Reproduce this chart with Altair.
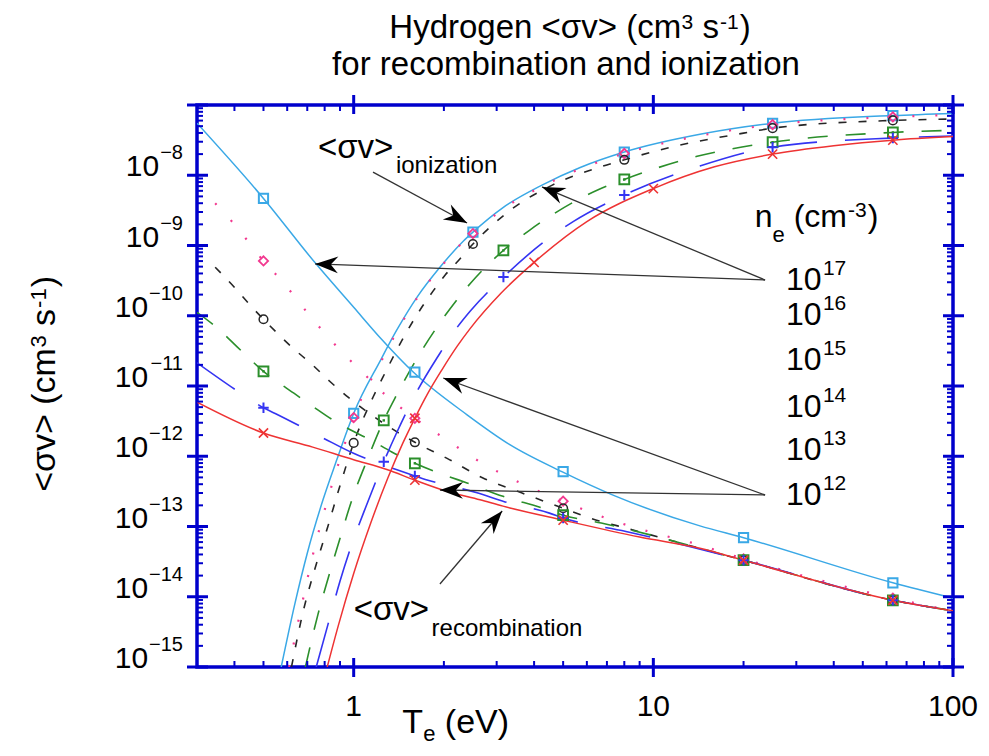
import math
import altair as alt
import pandas as pd

W, H = 756, 562
X_DOMAIN = [0.3, 100]
Y_DOMAIN = [1e-15, 1e-7]
FONT = "Liberation Sans"
AXIS_BLUE = "#0000cc"

xs = alt.Scale(type="log", domain=X_DOMAIN, nice=False)
ys = alt.Scale(type="log", domain=Y_DOMAIN, nice=False)

# ---------------- series (electron density n_e, cm^-3) ----------------
series_names = ["1e17", "1e16", "1e15", "1e14", "1e13", "1e12"]
series_colors = ["#3aa8e6", "#f2388f", "#262626", "#2b8f2b", "#3434f2", "#ee3333"]
series_dash = [None, [2, 21], [8, 12], [20, 18], [46, 28], None]
series_width = [1.5, 2.2, 1.6, 1.6, 1.6, 1.5]

# recombination <sigma v>
rec_x_1e17 = [0.3, 0.5, 0.745, 1.0, 1.23, 1.58, 2.39, 3.33, 4.95, 7.3, 14.3, 20, 63, 100]
rec_y_1e17 = [5.50e-8, 4.68e-9, 5.62e-10, 1.32e-10, 4.79e-11, 1.58e-11, 3.89e-12, 1.45e-12,
              6.03e-13, 2.82e-13, 1.02e-13, 6.92e-14, 1.58e-14, 9.55e-15]
rec_x_1e16 = [0.345, 0.4, 0.5, 0.58, 0.73, 0.94, 1.09, 1.27, 1.6, 2.0, 2.64, 3.56, 5.0, 7.4,
              10, 13.4, 20, 63, 100]
rec_y_1e16 = [3.98e-9, 2.00e-9, 6.03e-10, 3.02e-10, 8.91e-11, 2.69e-11, 1.45e-11, 7.59e-12,
              3.47e-12, 1.82e-12, 8.32e-13, 4.27e-13, 2.29e-13, 1.20e-13, 8.13e-14, 5.89e-14,
              3.47e-14, 9.55e-15, 6.31e-15]
rec_x_1e15 = [0.345, 0.403, 0.458, 0.5, 0.623, 0.728, 0.835, 0.958, 1.11, 1.6, 2.05, 2.7,
              3.63, 5.0, 6.6, 7.6, 20, 63, 100]
rec_y_1e15 = [4.90e-10, 2.45e-10, 1.32e-10, 8.91e-11, 3.55e-11, 2.00e-11, 1.15e-11, 6.92e-12,
              4.27e-12, 1.58e-12, 9.33e-13, 4.90e-13, 3.02e-13, 1.82e-13, 1.20e-13, 1.02e-13,
              3.31e-14, 8.91e-15, 6.31e-15]
rec_x_1e14 = [0.3, 0.354, 0.41, 0.5, 0.64, 0.73, 0.85, 0.97, 1.14, 1.34, 1.6, 2.05, 2.39,
              3.15, 4.28, 5.0, 6.7, 20, 63, 100]
rec_y_1e14 = [1.12e-10, 6.46e-11, 3.55e-11, 1.62e-11, 7.59e-12, 5.13e-12, 3.31e-12, 2.40e-12,
              1.70e-12, 1.15e-12, 7.94e-13, 5.25e-13, 4.17e-13, 2.69e-13, 1.82e-13, 1.45e-13,
              1.12e-13, 3.31e-14, 8.91e-15, 6.31e-15]
rec_x_1e13 = [0.3, 0.44, 0.5, 0.547, 0.79, 0.99, 1.41, 1.6, 1.77, 2.58, 3.2, 4.5, 5.0, 8.1,
              20, 63, 100]
rec_y_1e13 = [2.14e-11, 6.92e-12, 4.90e-12, 4.07e-12, 1.82e-12, 1.12e-12, 6.31e-13, 5.25e-13,
              4.57e-13, 3.02e-13, 2.24e-13, 1.55e-13, 1.32e-13, 8.51e-14, 3.31e-14, 8.91e-15,
              6.31e-15]
rec_x_1e12 = [0.3, 0.5, 0.73, 1.0, 1.29, 1.6, 2.05, 2.64, 3.15, 5.0, 9.0, 14.3, 20, 63, 100]
rec_y_1e12 = [5.89e-12, 2.14e-12, 1.35e-12, 8.91e-13, 6.46e-13, 4.57e-13, 3.16e-13, 2.40e-13,
              1.95e-13, 1.23e-13, 7.08e-14, 4.90e-14, 3.31e-14, 8.91e-15, 6.31e-15]

# ionization <sigma v>
ion_x_1e17 = [0.573, 0.638, 0.70, 0.79, 0.88, 0.95, 1.0, 1.23, 1.39, 1.63, 1.94, 2.32, 2.5,
              3.15, 4.25, 5.7, 8, 14.6, 25, 63, 100]
ion_y_1e17 = [1.0e-15, 8.32e-15, 4.17e-14, 2.40e-13, 9.12e-13, 2.29e-12, 4.07e-12, 2.34e-11,
              6.17e-11, 1.86e-10, 4.90e-10, 1.15e-9, 1.55e-9, 3.47e-9, 7.24e-9, 1.29e-8,
              2.14e-8, 3.89e-8, 5.50e-8, 7.08e-8, 7.59e-8]
ion_x_1e16 = [0.608, 0.674, 0.733, 0.818, 0.90, 0.965, 1.012, 1.241, 1.40, 1.638, 1.95, 2.33,
              2.5, 3.15, 4.25, 5.7, 8, 14.6, 25, 63, 100]
ion_y_1e16 = [1.0e-15, 8.32e-15, 4.17e-14, 2.40e-13, 9.12e-13, 2.29e-12, 4.07e-12, 2.34e-11,
              6.17e-11, 1.86e-10, 4.90e-10, 1.15e-9, 1.48e-9, 3.31e-9, 6.92e-9, 1.23e-8,
              2.04e-8, 3.72e-8, 5.25e-8, 6.76e-8, 7.24e-8]
ion_x_1e15 = [0.62, 0.68, 0.745, 0.82, 0.90, 1.0, 1.16, 1.27, 1.48, 1.63, 1.84, 2.02, 2.23,
              2.5, 2.85, 3.4, 4.6, 6.8, 8, 12, 20, 25, 63, 100]
ion_y_1e15 = [1.0e-15, 6.46e-15, 2.63e-14, 1.0e-13, 3.80e-13, 1.55e-12, 6.92e-12, 1.51e-11,
              5.25e-11, 1.05e-10, 2.24e-10, 3.80e-10, 6.03e-10, 1.05e-9, 1.82e-9, 3.39e-9,
              7.24e-9, 1.35e-8, 1.66e-8, 2.63e-8, 3.98e-8, 4.68e-8, 6.03e-8, 6.31e-8]
ion_x_1e14 = [0.69, 0.76, 0.82, 0.90, 0.99, 1.11, 1.26, 1.39, 1.63, 1.97, 2.45, 3.16, 3.87,
              6.6, 8, 14, 25, 63, 100]
ion_y_1e14 = [1.0e-15, 5.62e-15, 1.78e-14, 6.76e-14, 2.51e-13, 8.91e-13, 3.24e-12, 7.41e-12,
              2.51e-11, 8.71e-11, 2.88e-10, 8.51e-10, 1.66e-9, 6.31e-9, 8.71e-9, 1.86e-8,
              2.95e-8, 4.07e-8, 4.37e-8]
ion_x_1e13 = [0.75, 0.82, 0.90, 0.99, 1.11, 1.26, 1.39, 1.63, 1.91, 2.21, 2.45, 3.16, 4.4,
              5.4, 8, 14.3, 25, 63, 100]
ion_y_1e13 = [1.0e-15, 3.98e-15, 1.66e-14, 5.89e-14, 2.14e-13, 8.32e-13, 2.14e-12, 8.51e-12,
              2.63e-11, 6.76e-11, 1.17e-10, 3.55e-10, 1.20e-9, 2.19e-9, 5.25e-9, 1.35e-8,
              2.51e-8, 3.39e-8, 3.63e-8]
ion_x_1e12 = [0.816, 0.89, 1.0, 1.14, 1.30, 1.46, 1.6, 1.76, 1.97, 2.21, 2.45, 3.1, 4.0, 6.0,
              10, 16, 25, 40, 63, 100]
ion_y_1e12 = [1.0e-15, 3.98e-15, 2.14e-14, 1.12e-13, 4.90e-13, 1.55e-12, 3.47e-12, 7.59e-12,
              1.70e-11, 3.63e-11, 6.61e-11, 2.09e-10, 5.75e-10, 2.19e-9, 6.46e-9, 1.32e-8,
              2.00e-8, 2.63e-8, 3.16e-8, 3.55e-8]

# symbols
rec_mark_x = [0.5, 1.6, 5.0, 20, 63]
rec_mark_y = [
    [4.68e-9, 1.58e-11, 6.03e-13, 6.92e-14, 1.58e-14],
    [6.03e-10, 3.47e-12, 2.29e-13, 3.47e-14, 9.55e-15],
    [8.91e-11, 1.58e-12, 1.82e-13, 3.31e-14, 8.91e-15],
    [1.62e-11, 7.94e-13, 1.45e-13, 3.31e-14, 8.91e-15],
    [4.90e-12, 5.25e-13, 1.32e-13, 3.31e-14, 8.91e-15],
    [2.14e-12, 4.57e-13, 1.23e-13, 3.31e-14, 8.91e-15],
]
ion_mark_x = [
    [1.0, 2.5, 8, 25, 63],
    [1.0, 2.5, 8, 25, 63],
    [1.0, 2.5, 8, 25, 63],
    [1.26, 3.16, 8, 25, 63],
    [1.26, 3.16, 8, 25, 63],
    [1.6, 4.0, 10, 25, 63],
]
ion_mark_y = [
    [4.07e-12, 1.55e-9, 2.14e-8, 5.50e-8, 7.08e-8],
    [3.55e-12, 1.48e-9, 2.04e-8, 5.25e-8, 6.76e-8],
    [1.55e-12, 1.05e-9, 1.66e-8, 4.68e-8, 6.03e-8],
    [3.24e-12, 8.51e-10, 8.71e-9, 2.95e-8, 4.07e-8],
    [8.32e-13, 3.55e-10, 5.25e-9, 2.51e-8, 3.39e-8],
    [3.47e-12, 5.75e-10, 6.46e-9, 2.00e-8, 3.16e-8],
]
PLUS = "M-1,0L1,0M0,-1L0,1"
CROSS = "M-1,-1L1,1M-1,1L1,-1"
mark_shape = ["square", "diamond", "circle", "square", PLUS, CROSS]
mark_size = [85, 85, 75, 95, 110, 85]
mark_sw = [2.0, 1.8, 1.5, 2.0, 2.0, 1.6]

# arrows (tail -> tip)
arrow_tail_x = [1.16, 23.6, 23.6, 23.6, 23.6, 1.94]
arrow_tail_y = [1.11e-8, 3.23e-10, 3.23e-10, 2.81e-13, 2.81e-13, 1.52e-14]
arrow_tip_x = [2.39, 4.25, 0.743, 1.99, 1.94, 3.13]
arrow_tip_y = [2.09e-9, 6.81e-9, 5.46e-10, 1.30e-11, 3.31e-13, 1.66e-13]
ARROW = "M0,0L-0.8,2.2L0,1.5L0.8,2.2Z"

# axis ticks and labels
x_major = [1, 10, 100]
x_minor = [0.4, 0.5, 0.6, 0.7, 0.8, 0.9, 2, 3, 4, 5, 6, 7, 8, 9,
           20, 30, 40, 50, 60, 70, 80, 90]
x_labels = ["1", "10", "100"]
y_major = [1e-15, 1e-14, 1e-13, 1e-12, 1e-11, 1e-10, 1e-9, 1e-8, 1e-7]
y_minor = [k * 10.0 ** e for e in range(-15, -7) for k in range(2, 10)]
y_label_vals = [1e-15, 1e-14, 1e-13, 1e-12, 1e-11, 1e-10, 1e-9, 1e-8]
y_label_exps = ["\u221215", "\u221214", "\u221213", "\u221212", "\u221211", "\u221210",
                "\u22129", "\u22128"]

dens_label_exps = ["17", "16", "15", "14", "13", "12"]
dens_label_y = [2.33e-10, 7.38e-11, 1.69e-11, 3.62e-12, 8.85e-13, 2.02e-13]
dens_label_x = 27.7

# ---------------- helpers ----------------
ADV = {" ": 278, "(": 333, ")": 333, "<": 584, ">": 584, "-": 333, "\u2212": 584,
       "\u03c3": 602, "H": 722, "T": 611, "V": 667,
       "a": 556, "b": 556, "c": 500, "d": 556, "e": 556, "f": 278, "g": 556, "h": 556,
       "i": 222, "l": 222, "m": 833, "n": 556, "o": 556, "r": 333, "s": 500, "t": 278,
       "v": 500, "y": 500, "z": 500}


def tw(s, size):
    return sum(ADV.get(c, 556) for c in s) / 1000.0 * size


def X(field):
    return alt.X(field, type="quantitative", scale=xs, axis=None)


def Y(field):
    return alt.Y(field, type="quantitative", scale=ys, axis=None)


def rich(xv, yv, pieces, anchor="left", angle=0, base_dx=0.0, base_dy=0.0):
    """pieces: (text, size, rise, gap_before); leading spaces become explicit gaps."""
    total = sum(tw(p[0], p[1]) + p[3] for p in pieces)
    off = {"left": 0.0, "center": -total / 2.0, "right": -total}[anchor]
    df = pd.DataFrame({"x": [xv], "y": [yv]})
    out = []
    for t, s, r, g in pieces:
        off += g
        lead = len(t) - len(t.lstrip(" "))
        off += tw(" " * lead, s)
        body = t.lstrip(" ")
        out.append(alt.Chart(df).mark_text(
            text=body.rstrip(" "), font=FONT, fontSize=s, align="left", baseline="alphabetic",
            dx=base_dx + off, dy=base_dy - r, angle=angle, color="black"
        ).encode(x=X("x"), y=Y("y")))
        off += tw(body, s)
    return out


def px(v):
    return (math.log10(v) - math.log10(X_DOMAIN[0])) / (
        math.log10(X_DOMAIN[1]) - math.log10(X_DOMAIN[0])) * W


def py(v):
    return (math.log10(Y_DOMAIN[1]) - math.log10(v)) / (
        math.log10(Y_DOMAIN[1]) - math.log10(Y_DOMAIN[0])) * H


layers = []

# ---------------- curves ----------------
curve_data = [
    (rec_x_1e17, rec_y_1e17, ion_x_1e17, ion_y_1e17),
    (rec_x_1e16, rec_y_1e16, ion_x_1e16, ion_y_1e16),
    (rec_x_1e15, rec_y_1e15, ion_x_1e15, ion_y_1e15),
    (rec_x_1e14, rec_y_1e14, ion_x_1e14, ion_y_1e14),
    (rec_x_1e13, rec_y_1e13, ion_x_1e13, ion_y_1e13),
    (rec_x_1e12, rec_y_1e12, ion_x_1e12, ion_y_1e12),
]
for i, name in enumerate(series_names):
    rx, ry, ix, iy = curve_data[i]
    df = pd.DataFrame({
        "x": rx + ix, "y": ry + iy,
        "branch": ["rec"] * len(rx) + ["ion"] * len(ix),
        "ord": list(range(len(rx))) + list(range(len(ix))),
    })
    kw = dict(color=series_colors[i], strokeWidth=series_width[i],
              interpolate="monotone", clip=True)
    if series_dash[i]:
        kw["strokeDash"] = series_dash[i]
    layers.append(alt.Chart(df).mark_line(**kw).encode(
        x=X("x"), y=Y("y"), detail="branch:N", order="ord:Q"))

# ---------------- symbols ----------------
for i, name in enumerate(series_names):
    df = pd.DataFrame({"x": rec_mark_x + ion_mark_x[i], "y": rec_mark_y[i] + ion_mark_y[i]})
    layers.append(alt.Chart(df).mark_point(
        shape=mark_shape[i], size=mark_size[i], filled=False, color=series_colors[i],
        strokeWidth=mark_sw[i], opacity=1
    ).encode(x=X("x"), y=Y("y")))
    if name == "1e14":
        layers.append(alt.Chart(df).mark_point(
            shape="square", size=6, filled=True, color=series_colors[i], opacity=1
        ).encode(x=X("x"), y=Y("y")))

# ---------------- arrows ----------------
angles = []
for tx, ty, hx, hy in zip(arrow_tail_x, arrow_tail_y, arrow_tip_x, arrow_tip_y):
    ddx = px(hx) - px(tx)
    ddy = py(hy) - py(ty)
    angles.append((math.degrees(math.atan2(ddx, -ddy)) + 360.0) % 360.0)
arrows = pd.DataFrame({"tx": arrow_tail_x, "ty": arrow_tail_y,
                       "hx": arrow_tip_x, "hy": arrow_tip_y, "ang": angles})
layers.append(alt.Chart(arrows).mark_rule(color="#333333", strokeWidth=1.3).encode(
    x=X("tx"), y=Y("ty"), x2="hx", y2="hy"))
layers.append(alt.Chart(arrows).mark_point(
    shape=ARROW, size=441, filled=True, color="black", opacity=1, strokeWidth=0
).encode(x=X("hx"), y=Y("hy"), angle=alt.Angle("ang:Q", scale=None)))

# ---------------- axis ticks (blue frame) ----------------
xmaj = pd.DataFrame({"v": x_major})
xmin = pd.DataFrame({"v": x_minor})
ymaj = pd.DataFrame({"v": y_major})
ymin = pd.DataFrame({"v": y_minor})
tick_major = dict(color=AXIS_BLUE, strokeWidth=3)
tick_minor = dict(color=AXIS_BLUE, strokeWidth=2)
layers += [
    alt.Chart(ymaj).mark_rule(**tick_major).encode(y=Y("v"), x=alt.value(-10), x2=alt.value(11)),
    alt.Chart(ymin).mark_rule(**tick_minor).encode(y=Y("v"), x=alt.value(0), x2=alt.value(6)),
    alt.Chart(ymaj).mark_rule(**tick_major).encode(y=Y("v"), x=alt.value(W - 10), x2=alt.value(W + 11)),
    alt.Chart(ymin).mark_rule(**tick_minor).encode(y=Y("v"), x=alt.value(W - 6), x2=alt.value(W)),
    alt.Chart(xmaj).mark_rule(**tick_major).encode(x=X("v"), y=alt.value(-10), y2=alt.value(9)),
    alt.Chart(xmin).mark_rule(**tick_minor).encode(x=X("v"), y=alt.value(0), y2=alt.value(6)),
    alt.Chart(xmaj).mark_rule(**tick_major).encode(x=X("v"), y=alt.value(H - 9), y2=alt.value(H + 10)),
    alt.Chart(xmin).mark_rule(**tick_minor).encode(x=X("v"), y=alt.value(H - 6), y2=alt.value(H)),
]

# ---------------- tick labels ----------------
xl = pd.DataFrame({"x": x_major, "y": [Y_DOMAIN[0]] * 3, "t": x_labels})
layers.append(alt.Chart(xl).mark_text(font=FONT, fontSize=30, align="center",
                                      baseline="alphabetic", dy=49, color="black").encode(
    x=X("x"), y=Y("y"), text="t:N"))

yl = pd.DataFrame({"x": [X_DOMAIN[0]] * len(y_label_vals), "y": y_label_vals, "t": y_label_exps,
                   "n": [len(e) for e in y_label_exps]})
EXP_SIZE = 20
BASE_SIZE = 30
layers.append(alt.Chart(yl).mark_text(font=FONT, fontSize=EXP_SIZE, align="right",
                                      baseline="alphabetic", dx=-14, dy=-16, color="black").encode(
    x=X("x"), y=Y("y"), text="t:N"))
for n in (2, 3):
    sub = yl[yl["n"] == n].copy()
    sub["b"] = "10"
    w = tw(sub["t"].iloc[0], EXP_SIZE)
    layers.append(alt.Chart(sub).mark_text(font=FONT, fontSize=BASE_SIZE, align="right",
                                           baseline="alphabetic", dx=-14 - w - 1, dy=1,
                                           color="black").encode(
        x=X("x"), y=Y("y"), text="b:N"))

# ---------------- density labels ----------------
dl = pd.DataFrame({"x": [dens_label_x] * 6, "y": dens_label_y, "t": dens_label_exps, "b": ["10"] * 6})
layers.append(alt.Chart(dl).mark_text(font=FONT, fontSize=32, align="left",
                                      baseline="alphabetic", color="black").encode(
    x=X("x"), y=Y("y"), text="b:N"))
layers.append(alt.Chart(dl).mark_text(font=FONT, fontSize=21, align="left",
                                      baseline="alphabetic", dx=37, dy=-15, color="black").encode(
    x=X("x"), y=Y("y"), text="t:N"))

# ---------------- annotations & titles ----------------
layers += rich(21.8, 1.83e-9, [("n", 32, 0, 0), ("e", 22, -15, 0), (" (cm", 32, 0, 0),
                               ("-3", 21, 10, 1), (")", 32, 0, 1)])
layers += rich(0.760, 1.76e-8, [("<\u03c3v>", 33, 0, 0), ("ionization", 24, -15, 3)])
layers += rich(1.0, 4.67e-15, [("<\u03c3v>", 33, 0, 0), ("recombination", 24, -16, 3)])
layers += rich(5.27, Y_DOMAIN[1], [("Hydrogen <\u03c3v> (cm", 33, 0, 0), ("3", 21, 9, 1),
                                   (" s", 33, 0, 0), ("-1", 21, 9, 1), (")", 33, 0, 1)],
               anchor="center", base_dy=-67)
layers += rich(5.11, Y_DOMAIN[1], [("for recombination and ionization", 33, 0, 0)],
               anchor="center", base_dy=-30)
layers += rich(2.19, Y_DOMAIN[0], [("T", 34, 0, 0), ("e", 22, -8, 0), (" (eV)", 34, 0, 0)],
               anchor="center", base_dy=66)
layers += rich(X_DOMAIN[0], 1.07e-11, [("<\u03c3v> (cm", 34, 0, 0), ("3", 22, 9, 1),
                                       (" s", 34, 0, 0), ("-1", 22, 9, 1), (")", 34, 0, 1)],
               anchor="center", angle=270, base_dy=-142)

chart = alt.layer(*layers).properties(
    width=W, height=H,
    padding={"left": 189, "top": 97, "right": 28, "bottom": 81},
    autosize=alt.AutoSizeParams(type="none"),
    background="white",
).configure_view(stroke=AXIS_BLUE, strokeWidth=3.5)

chart.save("out.html", embed_options={"renderer": "svg", "actions": False})
